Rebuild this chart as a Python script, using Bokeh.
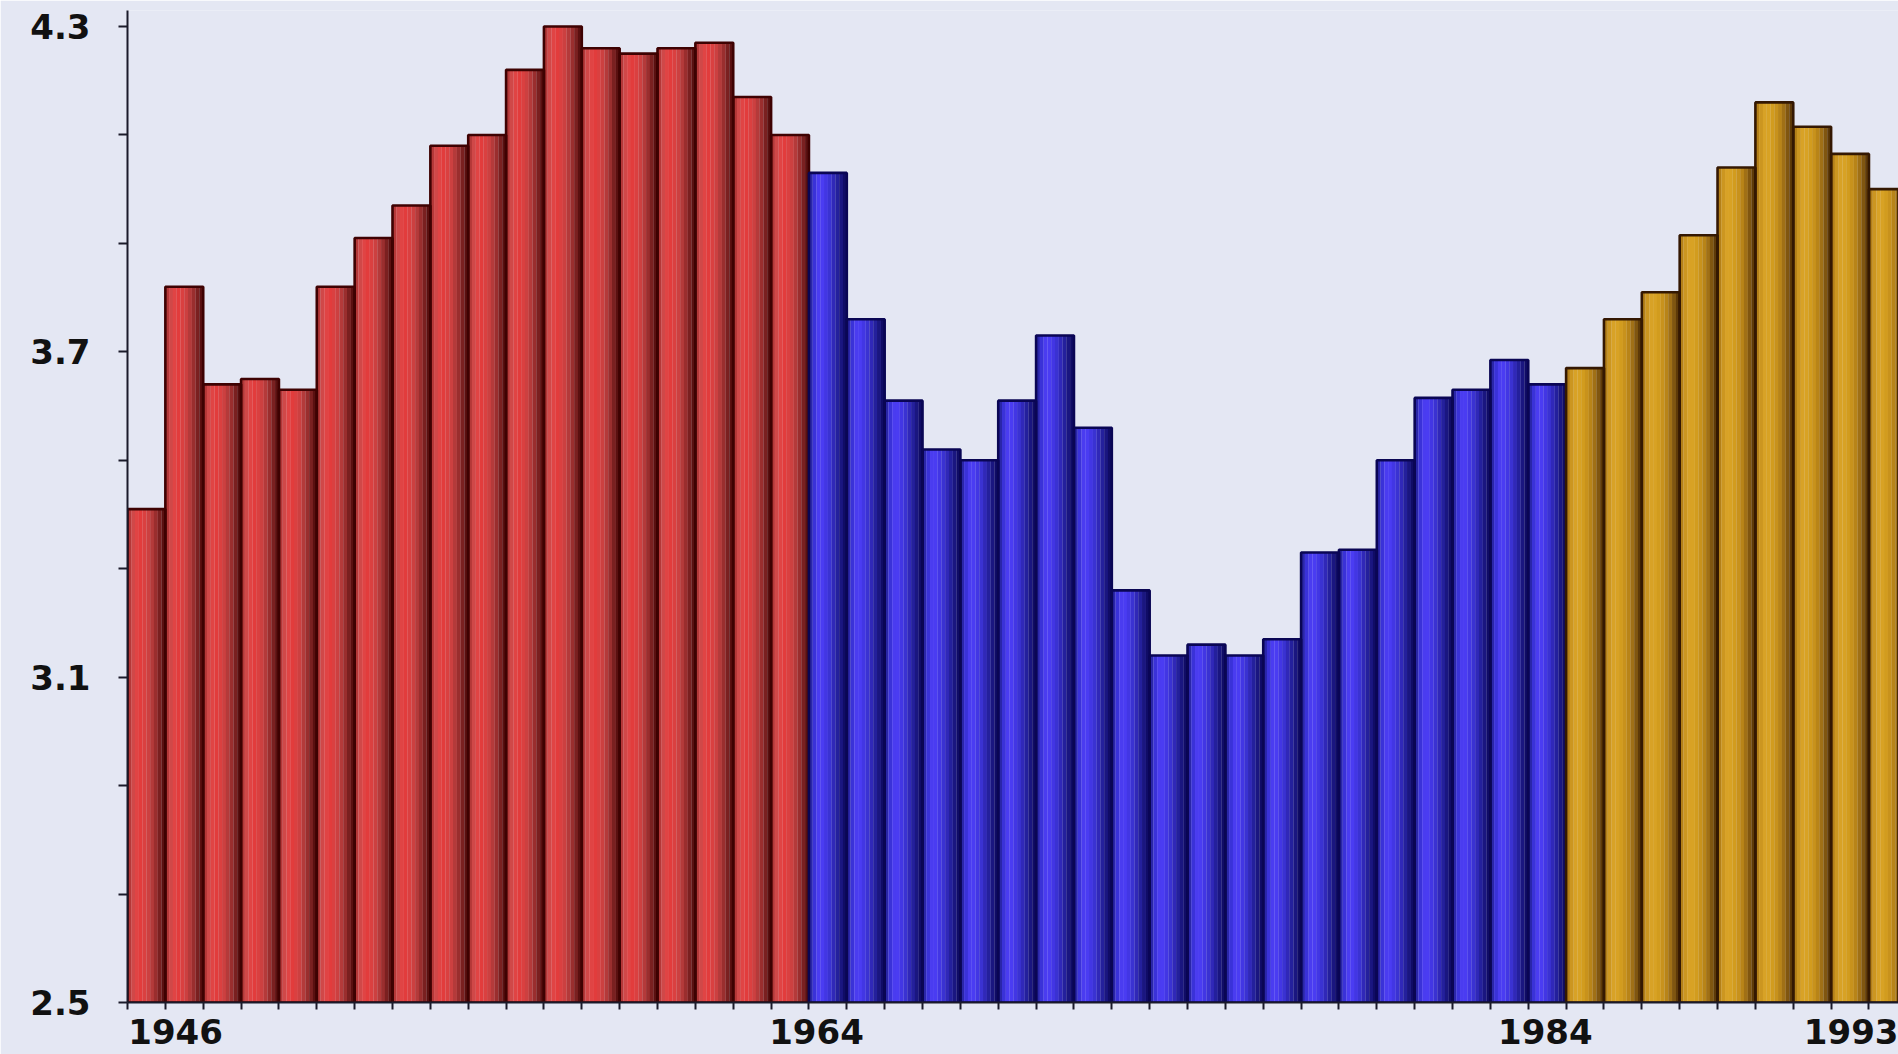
from bokeh.plotting import figure
from bokeh.models import ColumnDataSource, FixedTicker, Range1d
from bokeh.embed import file_html
from bokeh.resources import INLINE

# ---- data (US births, millions) ----
years_red = list(range(1946, 1964))
vals_red = [3.41, 3.82, 3.64, 3.65, 3.63, 3.82, 3.91, 3.97, 4.08, 4.10,
            4.22, 4.30, 4.26, 4.25, 4.26, 4.27, 4.17, 4.10]
years_blue = list(range(1964, 1984))
vals_blue = [4.03, 3.76, 3.61, 3.52, 3.50, 3.61, 3.73, 3.56, 3.26, 3.14,
             3.16, 3.14, 3.17, 3.33, 3.335, 3.50, 3.615, 3.63, 3.685, 3.64]
years_gold = list(range(1984, 1993))
vals_gold = [3.67, 3.76, 3.81, 3.915, 4.04, 4.16, 4.115, 4.065, 4.00]

y_label_ticks = [2.5, 3.1, 3.7, 4.3]
y_minor_ticks = [2.7, 2.9, 3.3, 3.5, 3.9, 4.1]
x_label_pos = [1946.77, 1963.7, 1982.95, 1991.1]
x_labels = ["1946", "1964", "1984", "1993"]

# ---- styling ----
BG = "#e4e7f3"
profiles = {
    "red": ["#b43838", "#d04848", "#e04444", "#e23c3c", "#da4040", "#cc4040", "#b43a3a", "#9a2e2e", "#7a2020", "#5a1010"],
    "blue": ["#2a26a8", "#3a32d8", "#4a3cf0", "#4a3cf2", "#4236e4", "#3a32d2", "#3028b8", "#24209c", "#1a1680", "#100c66"],
    "gold": ["#b48018", "#cc9620", "#d8a226", "#d8a224", "#d29c1e", "#c8921c", "#b88418", "#a07016", "#805610", "#5e3a08"],
}
edges = {"red": "#3e0202", "blue": "#0a0654", "gold": "#341802"}

p = figure(width=1898, height=1054, output_backend="svg", toolbar_location=None,
           x_range=Range1d(1945.5, 1992.28), y_range=Range1d(2.5, 4.3295),
           min_border_left=127, min_border_right=0, min_border_top=10, min_border_bottom=52)
p.background_fill_color = BG
p.border_fill_color = BG
p.outline_line_color = None
p.grid.grid_line_color = None

for name, years, vals in [("red", years_red, vals_red), ("blue", years_blue, vals_blue),
                          ("gold", years_gold, vals_gold)]:
    cols = profiles[name]
    k = len(cols)
    xs, tops, colors = [], [], []
    for yr, v in zip(years, vals):
        for i, c in enumerate(cols):
            xs.append(yr - 0.5 + (i + 0.5) / k)
            tops.append(v)
            colors.append(c)
    src = ColumnDataSource(dict(x=xs, top=tops, color=colors))
    p.vbar(x="x", top="top", bottom=0, width=1.0 / k + 0.004, source=src,
           fill_color="color", line_color=None)
    osrc = ColumnDataSource(dict(x=years, top=vals))
    p.vbar(x="x", top="top", bottom=0, width=1.0, source=osrc,
           fill_alpha=0, line_color=edges[name], line_width=2.6)

boundaries = [1945.5] + [y + 0.5 for y in years_red + years_blue + years_gold]

ax = p.xaxis[0]
ax.ticker = FixedTicker(ticks=x_label_pos, minor_ticks=boundaries)
ax.major_label_overrides = {v: t for v, t in zip(x_label_pos, x_labels)}
ax.major_tick_out = 0
ax.major_tick_in = 0
ax.minor_tick_out = 7
ax.minor_tick_in = 0
ax.minor_tick_line_color = "#1a1a2a"
ax.minor_tick_line_width = 2
ax.axis_line_color = "#1a1a2a"
ax.axis_line_width = 2
ax.major_label_text_font = "DejaVu Sans"
ax.major_label_text_font_style = "bold"
ax.major_label_text_font_size = "34px"
ax.major_label_text_color = "#111111"
ax.major_label_standoff = 9

ay = p.yaxis[0]
ay.ticker = FixedTicker(ticks=y_label_ticks, minor_ticks=y_minor_ticks)
ay.major_tick_out = 9
ay.major_tick_in = 0
ay.minor_tick_out = 9
ay.minor_tick_in = 0
ay.major_tick_line_color = "#1a1a2a"
ay.minor_tick_line_color = "#1a1a2a"
ay.major_tick_line_width = 2
ay.minor_tick_line_width = 2
ay.axis_line_color = "#1a1a2a"
ay.axis_line_width = 2
ay.major_label_text_font = "DejaVu Sans"
ay.major_label_text_font_style = "bold"
ay.major_label_text_font_size = "34px"
ay.major_label_text_color = "#111111"
ay.major_label_standoff = 28

open("out.html", "w").write(file_html(p, INLINE))
